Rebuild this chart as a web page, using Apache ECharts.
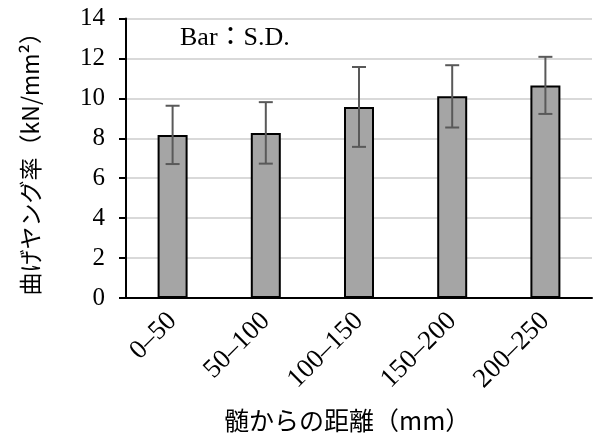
<!DOCTYPE html>
<html>
<head>
<meta charset="utf-8">
<script src="https://cdn.jsdelivr.net/npm/echarts@6/dist/echarts.min.js"></script>
<style>
  html, body { margin: 0; padding: 0; background: #fff; }
  #main { width: 595px; height: 441px; }
</style>
</head>
<body>
<div id="main"></div>
<script>
// 髄からの距離 (mm)
var categories = ["0–50", "50–100", "100–150", "150–200", "200–250"];
// 曲げヤング率 平均 (kN/mm2)
var means = [8.17, 8.27, 9.57, 10.10, 10.65];
// 標準偏差
var sds = [1.46, 1.54, 2.00, 1.56, 1.43];
var yTicks = [0, 2, 4, 6, 8, 10, 12, 14];

var serif = "'Liberation Serif', 'Noto Sans CJK JP', serif";

var errData = [];
for (var i = 0; i < means.length; i++) {
  errData.push([i, means[i] - sds[i], means[i] + sds[i]]);
}

var chart = echarts.init(document.getElementById("main"));
var option = {
  animation: false,
  grid: { left: 126, right: 3, top: 18.5, bottom: 143 },
  graphic: [
    {
      type: "text",
      left: 180,
      top: 25,
      style: {
        text: "Bar：S.D.",
        font: "26px " + serif,
        fill: "#000"
      }
    },
    {
      type: "text",
      left: 224,
      top: 408,
      style: {
        text: "髄からの距離（mm）",
        font: "25px 'Noto Sans CJK JP'",
        fill: "#000"
      }
    }
  ],
  xAxis: {
    type: "category",
    data: categories,
    axisLine: { lineStyle: { color: "#000", width: 2 } },
    axisTick: { show: false },
    axisLabel: {
      rotate: 45,
      margin: 19,
      color: "#000",
      fontFamily: serif,
      fontSize: 27
    }
  },
  yAxis: {
    type: "value",
    min: yTicks[0],
    max: yTicks[yTicks.length - 1],
    interval: 2,
    name: "曲げヤング率（kN/mm²）",
    nameLocation: "middle",
    nameGap: 84,
    nameRotate: 90,
    nameTextStyle: {
      color: "#000",
      fontFamily: "Noto Sans CJK JP",
      fontSize: 23
    },
    axisLine: { show: true, lineStyle: { color: "#000", width: 2 } },
    axisTick: { show: true, length: 7, lineStyle: { color: "#000", width: 2 } },
    axisLabel: {
      margin: 21,
      color: "#000",
      fontFamily: serif,
      fontSize: 25
    },
    splitLine: { lineStyle: { color: "#d9d9d9", width: 2 } }
  },
  series: [
    {
      type: "bar",
      data: means,
      barWidth: 30,
      itemStyle: { color: "#a5a5a5", borderColor: "#000", borderWidth: 2 }
    },
    {
      type: "custom",
      z: 10,
      data: errData,
      renderItem: function (params, api) {
        var x = api.value(0);
        var pLo = api.coord([x, api.value(1)]);
        var pHi = api.coord([x, api.value(2)]);
        var hw = 7;
        var st = { stroke: "#595959", lineWidth: 2 };
        return {
          type: "group",
          children: [
            { type: "line", shape: { x1: pHi[0], y1: pHi[1], x2: pLo[0], y2: pLo[1] }, style: st },
            { type: "line", shape: { x1: pHi[0] - hw, y1: pHi[1], x2: pHi[0] + hw, y2: pHi[1] }, style: st },
            { type: "line", shape: { x1: pLo[0] - hw, y1: pLo[1], x2: pLo[0] + hw, y2: pLo[1] }, style: st }
          ]
        };
      }
    }
  ]
};
chart.setOption(option);
</script>
</body>
</html>
